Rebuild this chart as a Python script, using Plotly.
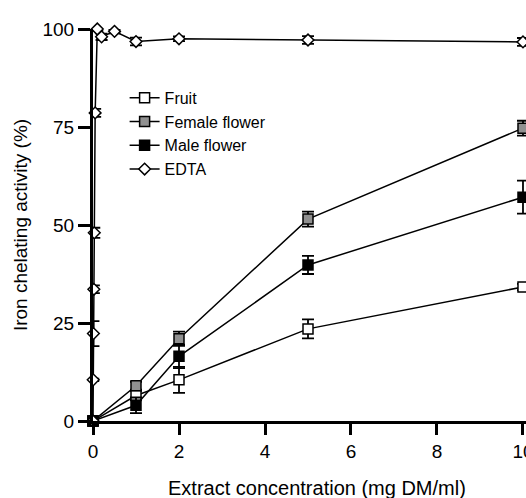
import plotly.graph_objects as go

conc = [0, 1, 2, 5, 10]
fruit = [0, 6.5, 10.5, 23.5, 34.2]
fruit_err = [0, 1.2, 3.3, 2.4, 0.8]
female = [0, 9.0, 21.0, 51.5, 74.7]
female_err = [0, 1.0, 1.8, 1.9, 1.9]
male = [0, 4.0, 16.5, 39.8, 57.1]
male_err = [0, 2.0, 3.0, 2.3, 4.2]

edta_conc = [0, 0.005, 0.01, 0.02, 0.03, 0.05, 0.1, 0.2, 0.5, 1, 2, 5, 10]
edta = [0, 10.5, 22.3, 33.6, 48.0, 78.6, 100.0, 98.0, 99.4, 96.8, 97.5, 97.2, 96.7]
edta_err = [0, 0.3, 3.2, 1.0, 1.3, 1.0, 0.5, 0.8, 0.5, 1.0, 0.6, 1.0, 1.0]

x_ticks = [0, 2, 4, 6, 8, 10]
y_ticks = [0, 25, 50, 75, 100]
x_title = "Extract concentration (mg DM/ml)"
y_title = "Iron chelating activity (%)"

FONT = "Liberation Sans, Arial, sans-serif"

fig = go.Figure()

def add(name, x, y, err, symbol, fill, size):
    fig.add_trace(go.Scatter(
        x=x, y=y, name=name, mode="lines+markers",
        line=dict(color="black", width=1.5),
        marker=dict(symbol=symbol, size=size, color=fill,
                    line=dict(color="black", width=1.5)),
        error_y=dict(type="data", array=err, visible=True,
                     color="black", thickness=1.8, width=6),
        cliponaxis=False,
    ))

add("Fruit", conc, fruit, fruit_err, "square", "white", 10)
add("Female flower", conc, female, female_err, "square", "#909090", 10)
add("Male flower", conc, male, male_err, "square", "black", 10)
add("EDTA", edta_conc, edta, edta_err, "diamond", "white", 9)

fig.update_layout(
    width=526, height=498,
    margin=dict(l=93, r=0, t=29, b=77),
    paper_bgcolor="white", plot_bgcolor="white",
    font=dict(family=FONT, size=17, color="black"),
    showlegend=True,
    legend=dict(x=0.073, y=0.868, xanchor="left", yanchor="top",
                bgcolor="rgba(0,0,0,0)", font=dict(size=16),
                tracegroupgap=0, itemwidth=30),
    annotations=[dict(text=x_title, xref="paper", yref="paper",
                      x=0.517, y=-0.172, xanchor="center", yanchor="middle",
                      showarrow=False, font=dict(size=20))],
)
fig.update_xaxes(
    range=[0, 10.07], showgrid=False, zeroline=False,
    showline=True, linecolor="black", linewidth=3,
    ticks="outside", ticklen=11, tickwidth=3, tickcolor="black",
    tickvals=x_ticks, ticklabeloverflow="allow",
    tickfont=dict(size=19),
    automargin=False,
)
fig.update_yaxes(
    range=[0, 100], showgrid=False, zeroline=False,
    showline=True, linecolor="black", linewidth=3,
    ticks="outside", ticklen=12, tickwidth=3, tickcolor="black",
    tickvals=y_ticks, ticklabeloverflow="allow",
    tickfont=dict(size=19),
    title=dict(text=y_title, font=dict(size=19), standoff=10),
    automargin=False,
)

fig.write_html(
    "out.html",
    config={"displayModeBar": False},
    post_script="document.body.style.margin='0';document.body.style.overflow='hidden';",
)
